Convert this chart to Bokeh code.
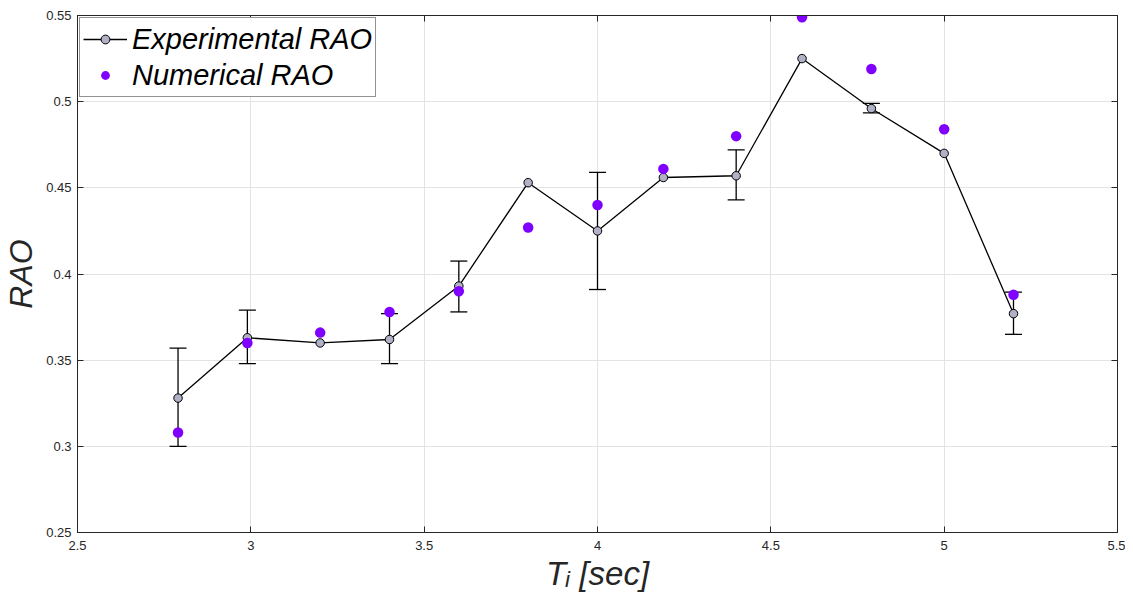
from bokeh.plotting import figure
from bokeh.models import (ColumnDataSource, Range1d, Whisker, TeeHead, Legend,
                          LegendItem, LinearAxis, FixedTicker)
from bokeh.embed import file_html
from bokeh.resources import INLINE

# ---- data ----
period = [2.79, 2.99, 3.20, 3.40, 3.60, 3.80, 4.00, 4.19, 4.40, 4.59, 4.79, 5.00, 5.20]
rao_experimental = [0.328, 0.363, 0.360, 0.362, 0.393, 0.453, 0.425, 0.456, 0.457, 0.525, 0.496, 0.470, 0.377]
rao_numerical = [0.308, 0.360, 0.366, 0.378, 0.390, 0.427, 0.440, 0.461, 0.480, 0.549, 0.519, 0.484, 0.388]

err_period = [2.79, 2.99, 3.40, 3.60, 4.00, 4.40, 4.79, 5.20]
err_upper = [0.357, 0.379, 0.377, 0.4075, 0.459, 0.472, 0.499, 0.3895]
err_lower = [0.300, 0.348, 0.348, 0.378, 0.391, 0.443, 0.4935, 0.365]

x_ticks = [2.5, 3.0, 3.5, 4.0, 4.5, 5.0, 5.5]
y_ticks = [0.25, 0.30, 0.35, 0.40, 0.45, 0.50, 0.55]

FONT = "Liberation Sans"
AX = "#262626"

p = figure(width=1125, height=600, x_range=Range1d(2.5, 5.5), y_range=Range1d(0.25, 0.55),
           output_backend="svg", toolbar_location=None,
           min_border_left=76, min_border_right=8, min_border_top=15, min_border_bottom=68)
p.background_fill_color = "white"
p.border_fill_color = "white"
p.outline_line_color = AX
p.outline_line_width = 1

p.xaxis.ticker = FixedTicker(ticks=x_ticks)
p.yaxis.ticker = FixedTicker(ticks=y_ticks)
p.xaxis.major_label_overrides = {t: f"{t:g}" for t in x_ticks}
p.yaxis.major_label_overrides = {t: f"{t:g}" for t in y_ticks}
for ax in (p.xaxis[0], p.yaxis[0]):
    ax.major_tick_in = 6
    ax.major_tick_out = 0
    ax.minor_tick_line_color = None
    ax.axis_line_color = AX
    ax.major_tick_line_color = AX
    ax.major_label_text_font = FONT
    ax.major_label_text_font_size = "13px"
    ax.major_label_text_color = AX
    ax.axis_label_text_font = FONT
    ax.axis_label_text_font_style = "italic"
    ax.axis_label_text_color = AX
p.xaxis.major_label_standoff = 8
p.yaxis.major_label_standoff = 6

p.yaxis.axis_label = "RAO"
p.yaxis.axis_label_text_font_size = "32px"
p.yaxis.axis_label_standoff = 4
p.xaxis.axis_label = "T\u1d62 [sec]"
p.xaxis.axis_label_text_font_size = "33px"
p.xaxis.axis_label_standoff = 2

for side, tks in (("right", y_ticks), ("above", x_ticks)):
    a = LinearAxis(ticker=FixedTicker(ticks=tks), major_tick_in=6, major_tick_out=0,
                   minor_tick_line_color=None, major_label_text_font_size="0px",
                   major_label_standoff=0, axis_line_color=AX, major_tick_line_color=AX)
    a.major_label_overrides = {t: "" for t in tks}
    p.add_layout(a, side)

p.grid.grid_line_color = "#e3e3e3"
p.grid.grid_line_width = 1
p.xgrid.ticker = FixedTicker(ticks=x_ticks)
p.ygrid.ticker = FixedTicker(ticks=y_ticks)

err_src = ColumnDataSource(dict(x=err_period, upper=err_upper, lower=err_lower))
wh = Whisker(base="x", upper="upper", lower="lower", source=err_src, dimension="height",
             line_color="black", line_width=1.3,
             upper_head=TeeHead(size=17, line_color="black", line_width=1.3),
             lower_head=TeeHead(size=17, line_color="black", line_width=1.3))
p.add_layout(wh)

exp_line = p.line(period, rao_experimental, line_color="black", line_width=1.3)
exp_pts = p.scatter(period, rao_experimental, size=8.5, fill_color="#b0b0c6",
                    line_color="black", line_width=1)
num_pts = p.scatter(period, rao_numerical, size=10.5, fill_color="#7f00ff",
                    line_color="#7f00ff", line_width=0)

legend = Legend(items=[LegendItem(label="Experimental RAO", renderers=[exp_line, exp_pts]),
                       LegendItem(label="Numerical RAO", renderers=[num_pts])],
                location="top_left", margin=2, padding=3, spacing=0,
                label_text_font=FONT, label_text_font_size="29px",
                label_text_font_style="italic", label_text_color="black",
                glyph_width=44, glyph_height=22, label_height=36, label_standoff=5,
                border_line_color=AX, border_line_width=1, background_fill_alpha=1)
p.add_layout(legend)

open("out.html", "w").write(file_html(p, INLINE))
